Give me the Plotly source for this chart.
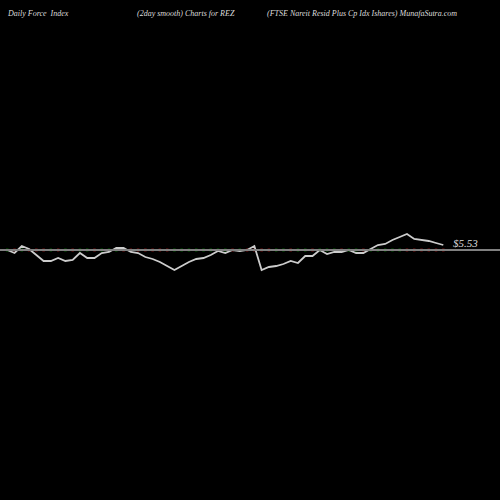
import plotly.graph_objects as go

# smoothed force index (arbitrary units, 0 = zero line)
force = [0, -3, 4, 1, -5, -11, -11, -8, -11, -10, -3, -8, -8, -3, -2, 2, 2, -2, -3, -7,
         -9, -12, -16, -20, -16, -12, -9, -8, -5, -1, -3, 0, -1, 0, 4,
         -20, -17, -16, -14, -11, -13, -6, -6, 0, -4, -2, -2, 0, -3, -3, 1,
         5, 6, 10, 13, 16, 11, 10, 9, 7, 5]
days = list(range(len(force)))
# raw force bars (tiny ticks along the zero line)
bar_sign = [1, -1, 1, -1, -1, -1, 1, -1, 1, -1, 1, 1, -1, 1, 1, 1, -1, -1, -1, -1,
            -1, -1, -1, 1, 1, 1, 1, 1, 1, 1, 1, -1, 1, -1, -1,
            -1, -1, 1, 1, -1, 1, 1, -1, 1, 1, 1, -1, 1, 1, -1, 1,
            1, 1, 1, 1, -1, -1, -1, -1, -1, -1]
last_label = "$5.53"

fig = go.Figure()
fig.add_hline(y=0, line_color="#808080", line_width=2)
fig.add_trace(go.Scatter(x=days, y=[0] * len(days), mode="markers",
                         marker=dict(symbol="square", size=2.5, line_width=0,
                                     color=["#00bb00" if s > 0 else "#ee2222" for s in bar_sign])))
fig.add_trace(go.Scatter(x=days, y=force, mode="lines",
                         line=dict(color="#cccccc", width=1.8)))
fig.add_annotation(x=days[-1] + 1, y=force[-1] + 2, text="<i>" + last_label + "</i>", showarrow=False,
                   xanchor="left", font=dict(family="Liberation Serif", size=11, color="#dddddd"))

head = dict(family="Liberation Serif", size=8, color="#dddddd")
for x, t in [(5, "<i>Daily Force  Index</i>"), (135, "<i>(2day smooth) Charts for REZ</i>"),
             (265, "<i>(FTSE Nareit Resid Plus Cp Idx Ishares) MunafaSutra.com</i>")]:
    fig.add_annotation(x=x / 500, y=1 - 7 / 500, xref="paper", yref="paper", text=t,
                       showarrow=False, xanchor="left", font=head)

fig.update_layout(width=500, height=500, margin=dict(l=0, r=0, t=0, b=0),
                  paper_bgcolor="black", plot_bgcolor="black", showlegend=False)
fig.update_xaxes(range=[-1, 67.8], visible=False)
fig.update_yaxes(range=[-250, 250], visible=False)
fig.write_html("out.html", config={"displayModeBar": False},
               post_script="document.body.style.margin='0';")
